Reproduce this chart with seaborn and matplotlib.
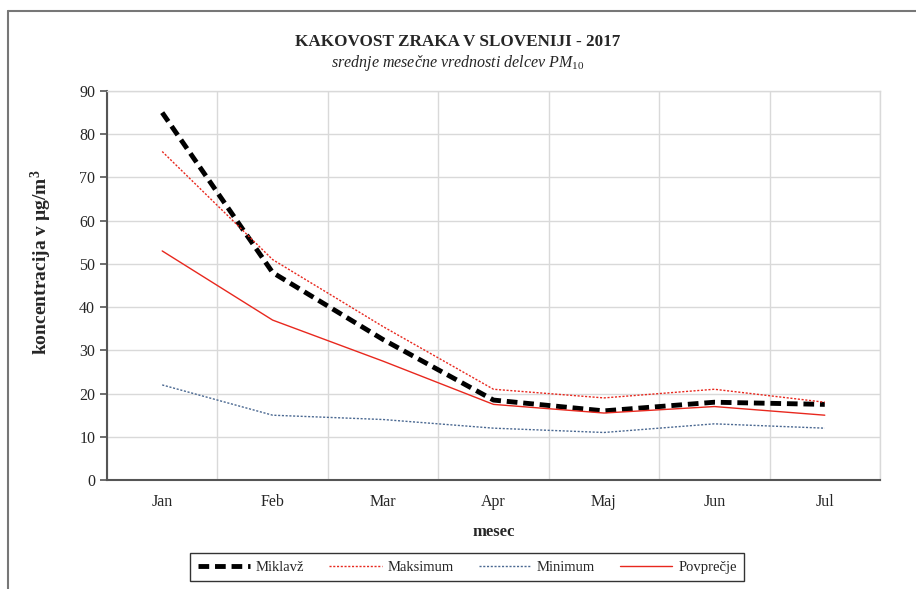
import matplotlib
matplotlib.use("Agg")
import matplotlib.pyplot as plt
from matplotlib.lines import Line2D
import seaborn as sns
import pandas as pd

months = ["Jan", "Feb", "Mar", "Apr", "Maj", "Jun", "Jul"]
miklavz = [85, 48, 32.5, 18.5, 16, 18, 17.5]
maksimum = [76, 51, 35.5, 21, 19, 21, 18]
minimum = [22, 15, 14, 12, 11, 13, 12]
povprecje = [53, 37, 27.5, 17.5, 15.5, 17, 15]

sns.set_style("white")
plt.rcParams["font.family"] = ["Liberation Serif", "DejaVu Serif"]
plt.rcParams["mathtext.fontset"] = "custom"
plt.rcParams["mathtext.rm"] = "Liberation Serif"
plt.rcParams["mathtext.it"] = "Liberation Serif:italic"
plt.rcParams["mathtext.bf"] = "Liberation Serif:bold"

df = pd.DataFrame({"mesec": months, "Miklavž": miklavz, "Maksimum": maksimum,
                   "Minimum": minimum, "Povprečje": povprecje})

fig = plt.figure(figsize=(9.16, 5.89), dpi=100)
ax = fig.add_axes([0.1168, 0.185, 0.8439, 0.6605])

# series styles
styles = {
    "Miklavž": dict(color="black", linewidth=3.5, dashes=(2.2, 1.2)),
    "Maksimum": dict(color="#e8281e", linewidth=1.0, dashes=(1.5, 1.2)),
    "Minimum": dict(color="#4a6891", linewidth=1.0, dashes=(1.5, 1.2)),
    "Povprečje": dict(color="#e8281e", linewidth=1.0),
}
for name, st in styles.items():
    st = dict(st)
    dashes = st.pop("dashes", None)
    sns.lineplot(data=df, x="mesec", y=name, ax=ax, label=name, **st)
    if dashes is not None:
        ax.lines[-1].set_dashes(dashes)

ax.set_xlim(-0.5, len(months) - 0.5)
ax.set_ylim(0, 90)
ax.set_yticks(range(0, 91, 10))
ax.set_xticks(range(len(months)))
ax.set_xticklabels(months)
ax.set_xticks([i - 0.5 for i in range(len(months) + 1)], minor=True)

ax.grid(False)
ax.yaxis.grid(True, color="#d9d9d9", linewidth=1)
ax.xaxis.grid(True, which="minor", color="#d9d9d9", linewidth=1)
ax.set_axisbelow(True)

for s in ["left", "bottom"]:
    ax.spines[s].set_color("#555555")
    ax.spines[s].set_linewidth(1.5)
for s in ["top", "right"]:
    ax.spines[s].set_color("#d9d9d9")
    ax.spines[s].set_linewidth(1)

ax.tick_params(axis="x", which="major", length=0, labelsize=11.5, pad=10)
ax.tick_params(axis="x", which="minor", length=5, width=1.2, color="#555555", direction="inout")
ax.tick_params(axis="y", length=5, width=1.2, color="#555555", labelsize=11.5, left=True)

ax.set_xlabel("mesec", fontsize=12, fontweight="bold", labelpad=10)
ax.set_ylabel("koncentracija v µg/m$^\\mathbf{3}$", fontsize=14, fontweight="bold")
ax.yaxis.set_label_coords(-0.068, 0.56)

fig.text(0.50, 0.928, "KAKOVOST ZRAKA V SLOVENIJI - 2017", ha="center", va="center",
         fontsize=12.3, fontweight="bold")
fig.text(0.50, 0.893, "srednje mesečne vrednosti delcev PM$_{10}$", ha="center", va="center",
         fontsize=11.5, style="italic")

leg = ax.legend(loc="center", bbox_to_anchor=(0.466, -0.224), ncol=4, frameon=True,
                fancybox=False, edgecolor="black", fontsize=10.5, handlelength=3.6,
                handletextpad=0.4, columnspacing=1.7, borderpad=0.5)
leg.get_frame().set_linewidth(1)

# outer chart frame
fig.add_artist(Line2D([8 / 916, 1], [1 - 11 / 589, 1 - 11 / 589], color="#777777", linewidth=1.5))
fig.add_artist(Line2D([8 / 916, 8 / 916], [0, 1 - 11 / 589], color="#777777", linewidth=1.5))

plt.savefig("out.png", dpi=100)
